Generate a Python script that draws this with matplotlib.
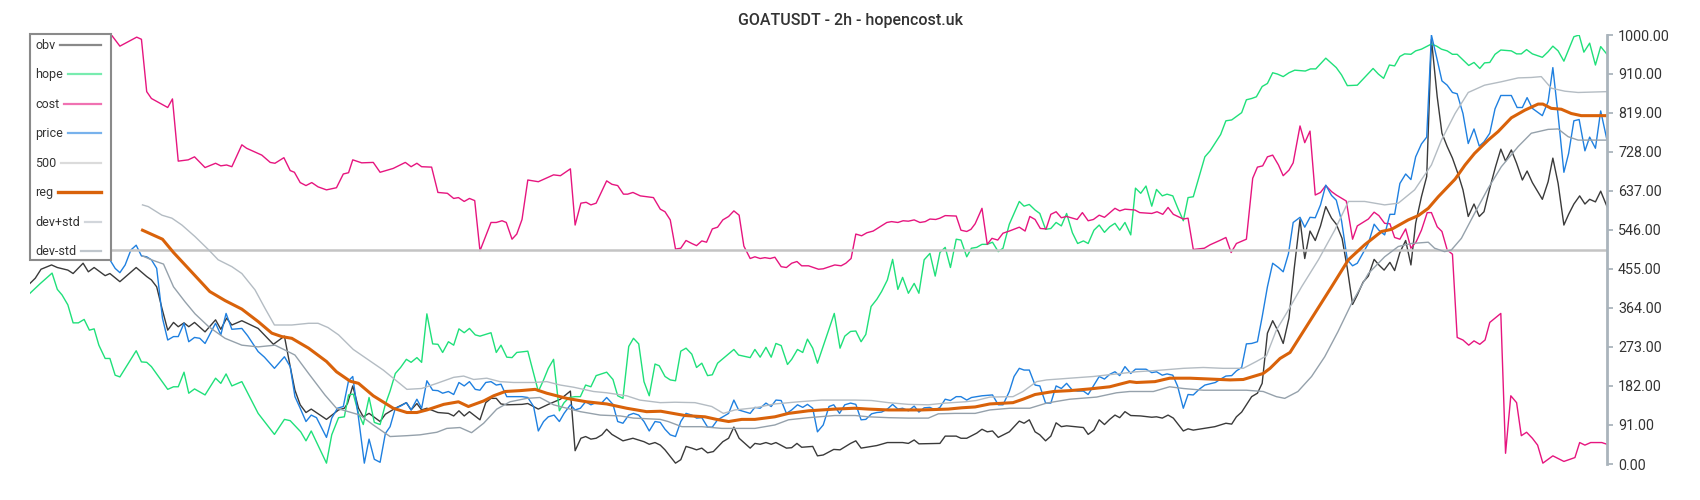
import matplotlib.pyplot as plt
from matplotlib.patches import Rectangle
from matplotlib.lines import Line2D

plt.rcParams['font.family'] = ['Roboto', 'DejaVu Sans']

title = 'GOATUSDT - 2h - hopencost.uk'
yticks = [0, 91, 182, 273, 364, 455, 546, 637, 728, 819, 910, 1000]
level_500 = 500

# x = bar number (2h candles), y = scaled value 0..1000
obv_t = [0, 1, 2.1, 4.1, 5.2, 7.2, 8.2, 10.1, 11.1, 12.2, 14.3, 15.2, 17.1, 20.2, 22.2, 23.1, 24.1, 25.1, 26.2, 27.3,
         28.2, 29.3, 30.2, 31.3, 33.3, 35.3, 36.3, 37.4, 38.4, 40.3, 43.4, 46.3, 48.4, 49.5, 50.4, 51.4, 52.5, 53.5,
         56.4, 58.7, 59.8, 60.4, 61.4, 62.5, 63.4, 64.5, 66.6, 67.6, 69.5, 71.6, 72.5, 73.6, 74.5, 75.5, 77.6, 79.6,
         80.6, 81.6, 82.6, 83.6, 85.6, 86.7, 87.7, 88.7, 89.6, 90.7, 93.6, 94.7, 96.7, 98.6, 100.9, 102.8, 103.7,
         104.8, 105.7, 106.7, 107.7, 108.8, 109.7, 110.7, 112.8, 114.7, 116.8, 117.8, 118.9, 119.9, 120.8, 122.8,
         123.8, 124.8, 125.9, 126.8, 127.8, 128.9, 130, 131.8, 132.9, 133.9, 134.9, 137, 137.9, 138.9, 140, 141,
         141.9, 143.9, 144.9, 145.9, 146.8, 148.9, 149.8, 150.9, 152.9, 154.1, 156.1, 157.1, 158.1, 161.1, 163.1,
         166, 167.1, 168.2, 169.1, 173.1, 174.1, 176.2, 177.1, 178.2, 180.1, 181.1, 182.1, 183.1, 184.2, 186.3,
         188.2, 189.1, 190.1, 191.2, 192.1, 193.2, 194.2, 195.2, 196.2, 197.2, 200.4, 201.3, 202.4, 203.4, 204.4,
         205.4, 206.4, 207.3, 208.3, 209.4, 211.3, 213.4, 214.3, 215.4, 216.5, 217.5, 219.4, 220.3, 221.3, 225.4,
         227.5, 228.6, 229.5, 230.5, 231.4, 232.4, 233.5, 234.4, 235.4, 236.4, 237.5, 238.4, 239.5, 240.5, 241.6,
         242.5, 243.5, 244.5, 245.5, 246.5, 247.6, 248.5, 249.6, 250.6, 251.6, 252.5, 253.6, 254.6, 255.7, 256.6,
         257.6, 258.7, 259.6, 260.6, 261.7, 262.7, 263.6, 264.7, 265.7, 266.6, 267.7, 268.6, 269.6, 270.6, 271.7,
         272.6, 273.6, 274.7, 275.7, 276.6, 277.7, 278.8, 279.8, 280.7, 281.8, 282.8, 283.9, 284.8, 285.8, 287.7,
         288.8, 289.7, 290.7, 291.8, 292.7, 293.7, 294.8, 295.8, 296.7, 297.8, 298.8, 300]
obv = [421, 433, 454, 464, 458, 452, 444, 468, 448, 458, 439, 444, 425, 458, 437, 429, 413, 363, 312, 330,
       320, 329, 320, 330, 308, 336, 314, 340, 324, 334, 316, 279, 298, 227, 172, 138, 120, 128,
       104, 126, 130, 141, 182, 130, 110, 118, 99, 116, 130, 143, 126, 141, 126, 130, 120, 118,
       112, 124, 112, 122, 103, 143, 153, 153, 140, 138, 139, 141, 128, 139, 151, 170, 31,
       60, 64, 58, 60, 68, 81, 69, 54, 60, 52, 46, 50, 44, 33, 2,
       10, 41, 37, 33, 37, 26, 29, 52, 60, 86, 60, 37, 48, 46, 50, 46,
       50, 37, 38, 48, 39, 41, 19, 21, 34, 33, 48, 54, 37, 43, 50,
       50, 48, 56, 47, 48, 65, 65, 60, 60, 72, 81, 75, 77, 62, 75,
       100, 95, 103, 75, 68, 54, 65, 96, 87, 89, 85, 69, 79, 103, 92,
       104, 114, 108, 122, 113, 112, 109, 110, 107, 114, 107, 77, 82, 79, 87,
       95, 93, 110, 121, 138, 157, 165, 188, 305, 334, 308, 281, 340, 456, 570,
       479, 543, 521, 555, 600, 573, 559, 526, 456, 372, 394, 424, 438, 477, 464,
       452, 470, 451, 493, 521, 464, 561, 623, 670, 990, 856, 771, 740, 713, 675,
       639, 577, 606, 577, 588, 643, 693, 734, 706, 732, 701, 662, 683, 656, 617,
       658, 713, 654, 557, 582, 606, 625, 606, 617, 611, 636, 600]

hope_t = [0, 1.9, 4.2, 5.2, 6.1, 7.2, 8.2, 9.2, 10.3, 11.3, 12.2, 13.1, 14.3, 15.2, 16.2, 17.1, 20.2, 21.2, 22.2,
          23.1, 26.2, 27.3, 28.2, 29.3, 30.2, 31.3, 33.3, 35.3, 36.3, 37.3, 38.4, 40.3, 43.4, 46.5, 48.4, 49.5,
          51.5, 52.5, 53.5, 56.4, 57.4, 58.7, 59.8, 60.6, 61.5, 62.5, 63.4, 64.5, 65.5, 66.6, 67.6, 68.5, 69.5,
          70.5, 71.6, 72.5, 73.6, 74.5, 75.5, 76.6, 77.6, 78.5, 79.6, 80.6, 81.6, 82.6, 83.6, 84.7, 85.6, 87.7,
          88.7, 89.6, 90.7, 91.7, 92.6, 94.7, 96.7, 97.7, 98.6, 99.6, 100.7, 101.6, 102.6, 103.7, 104.7, 105.7,
          106.7, 107.7, 109.7, 110.9, 111.8, 112.8, 113.9, 114.8, 115.8, 116.8, 117.8, 118.9, 119.7, 120.8,
          121.8, 122.8, 123.8, 124.8, 125.9, 126.8, 127.8, 128.9, 129.8, 130.8, 133.9, 134.8, 137, 137.9, 138.9,
          140, 141, 141.9, 142.9, 144.1, 144.9, 146, 147, 147.9, 148.9, 149.8, 153, 154.1, 155, 156.1, 157.1,
          158.1, 159, 160, 161.1, 162, 163.1, 164.1, 165.1, 166, 167.1, 168.2, 169.1, 170.1, 171.2, 172.2,
          173.1, 174.1, 175.1, 176.2, 177.1, 178.2, 179.1, 180.1, 181.1, 182.1, 183.1, 184.2, 185.1, 186.3,
          187.2, 188.2, 189.1, 190.1, 191.2, 192.1, 193.2, 194.2, 195.2, 196.2, 197.2, 198.3, 199.3, 200.4,
          201.3, 202.4, 203.4, 204.4, 205.4, 206.4, 207.3, 208.3, 209.4, 210.3, 211.3, 212.3, 213.4, 214.3,
          215.4, 216.3, 217.4, 218.3, 219.4, 220.3, 221.3, 223.5, 224.5, 226.5, 227.5, 228.6, 230.5, 231.4,
          232.4, 233.3, 234.4, 235.4, 236.4, 237.3, 238.4, 239.5, 240.6, 242.6, 243.6, 244.6, 246.5, 248.5,
          249.5, 250.6, 252.5, 255.5, 256.5, 257.5, 258.6, 259.6, 260.6, 261.5, 262.7, 263.6, 264.7, 266.6,
          267.6, 268.5, 269.6, 270.6, 271.5, 272.6, 273.7, 274.7, 275.8, 276.7, 277.7, 278.7, 279.8, 281.8,
          282.8, 283.7, 284.7, 285.8, 287.7, 288.8, 289.7, 290.7, 291.8, 292.7, 293.7, 294.7, 295.6, 296.7,
          297.8, 298.8, 300]
hope = [398, 420, 445, 407, 394, 371, 329, 329, 337, 312, 315, 277, 246, 246, 207, 203, 264, 238, 237,
        227, 174, 180, 180, 214, 165, 175, 161, 200, 188, 210, 182, 192, 118, 69, 104, 101,
        75, 54, 77, 2, 68, 108, 110, 161, 163, 118, 92, 155, 97, 92, 139, 170, 211,
        225, 244, 237, 248, 237, 350, 280, 279, 260, 285, 277, 315, 306, 316, 301, 298, 306,
        260, 277, 249, 248, 260, 263, 169, 196, 223, 244, 124, 143, 155, 157, 157, 184,
        180, 206, 214, 197, 159, 153, 274, 293, 280, 192, 159, 233, 229, 204,
        196, 194, 263, 270, 256, 225, 235, 206, 208, 235, 267, 254, 248, 267, 249,
        272, 249, 281, 276, 232, 244, 267, 260, 291, 270, 235, 351, 270, 298, 309, 310,
        285, 302, 367, 384, 402, 429, 477, 407, 435, 398, 421, 398, 476, 491, 438,
        493, 505, 458, 524, 522, 483, 503, 505, 512, 512, 517, 495, 503, 559,
        584, 612, 601, 605, 592, 584, 547, 549, 563, 555, 584, 539, 514, 520,
        514, 545, 557, 540, 553, 561, 545, 563, 534, 643, 631, 648, 601, 640,
        625, 629, 625, 598, 567, 621, 623, 716, 730, 768, 800, 802, 819, 849,
        852, 856, 880, 887, 912, 909, 903, 912, 918, 916, 921, 921, 946, 924,
        907, 882, 883, 922, 909, 899, 930, 928, 950, 956, 955, 963, 967, 979,
        974, 967, 963, 955, 955, 942, 929, 936, 922, 935, 936, 955, 965, 963,
        956, 956, 966, 956, 948, 961, 974, 963, 939, 966, 996, 1000, 960, 981,
        930, 973, 955]

cost_t = [0, 8, 15.5, 17.1, 20.3, 21.2, 22.2, 23.1, 26.2, 27.1, 28.2, 30.1, 31.3, 33.3, 35.3, 36.3, 37.4, 38.4,
          40.3, 41.2, 44.1, 45.7, 46.6, 48.3, 49.5, 50.3, 51.4, 52.5, 53.6, 54.8, 56.4, 58.3, 59.6, 60.6, 61.4,
          63.1, 65.3, 66.6, 69.1, 71.4, 72.5, 73.6, 74.5, 76.4, 77.6, 79.4, 80.6, 81.5, 82.6, 83.6, 84.6, 85.6,
          87.7, 88.7, 89.8, 90.6, 91.7, 92.6, 93.6, 94.7, 96.7, 99.6, 100.9, 102.8, 103.7, 104.8, 105.8, 106.7,
          107.7, 109.7, 110.7, 111.8, 112.9, 113.7, 114.7, 116.1, 118.6, 119.9, 120.8, 121.8, 122.8, 123.8,
          124.8, 125.9, 126.8, 127.8, 128.7, 129.8, 130.8, 131.8, 132.9, 133.9, 134.9, 135.8, 137, 137.9,
          138.9, 139.8, 140.8, 141.7, 142.9, 143.9, 144.9, 145.9, 146.8, 148.1, 150, 150.9, 153.1, 154.3,
          155.2, 156.2, 157.1, 158.2, 159.2, 160.4, 163, 163.9, 165.1, 166.1, 167.1, 168.2, 169.3, 170.3,
          171.2, 172.3, 173.1, 174.1, 176.2, 177.1, 178.2, 179, 179.8, 181.1, 182.1, 183, 184.1, 185.1, 186.3,
          188.2, 189.3, 190.2, 191.2, 192.2, 193.3, 194.2, 195.2, 196.2, 197.2, 199.2, 200.2, 201.3, 202.3,
          203.4, 204.4, 206.4, 207.3, 208.3, 210.2, 211.1, 213.4, 214.4, 215.5, 216.5, 217.5, 219.4, 220.3,
          221.3, 223.4, 224.5, 226.5, 227.5, 228.5, 229.5, 231.4, 232.6, 233.5, 234.5, 235.4, 236.4, 237.5,
          238.4, 239.5, 240.3, 241.6, 242.5, 243.5, 244.5, 245.5, 246.5, 247.6, 248.5, 250.4, 251.6, 252.5,
          254.6, 255.7, 256.6, 257.7, 258.7, 259.6, 260.6, 261.7, 262.7, 263.7, 264.7, 265.8, 266.6, 267.7,
          268.6, 269.6, 270.6, 271.5, 272.6, 273.7, 274.7, 275.8, 276.8, 277.7, 279.8, 280.7, 281.7, 282.8,
          283.7, 284.7, 285.8, 286.8, 287.8, 289.7, 291.8, 293.9, 294.8, 295.8, 296.9, 299, 300]
cost = [1000, 1000, 1000, 974, 995, 990, 868, 852, 831, 851, 706, 709, 716, 691, 701, 695, 697, 693,
        744, 736, 720, 703, 701, 714, 684, 680, 656, 649, 656, 646, 639, 644, 676, 679, 709,
        702, 703, 680, 689, 703, 693, 701, 693, 692, 633, 631, 619, 621, 612, 619, 614, 497,
        563, 563, 567, 563, 524, 536, 570, 662, 658, 674, 672, 688, 557, 608, 610, 604,
        608, 660, 652, 649, 629, 629, 633, 625, 621, 594, 588, 569, 501, 503,
        521, 514, 509, 520, 517, 548, 552, 569, 577, 590, 580, 508, 479, 483,
        479, 481, 479, 482, 460, 458, 468, 472, 462, 462, 454, 455, 464, 462,
        468, 479, 536, 532, 539, 543, 563, 565, 563, 567, 566, 569, 563, 565,
        571, 570, 573, 579, 578, 545, 542, 547, 560, 596, 512, 526, 522, 538, 543,
        552, 543, 577, 570, 549, 548, 582, 588, 574, 577, 570, 586, 567, 570,
        580, 575, 596, 590, 594, 592, 586, 584, 588, 582, 598, 582, 571, 573,
        500, 503, 511, 522, 528, 493, 514, 524, 666, 692, 695, 716, 720, 697,
        672, 685, 702, 788, 749, 776, 627, 633, 649, 635, 627, 613, 524, 555,
        571, 587, 579, 561, 560, 528, 524, 548, 503, 518, 545, 586, 586, 553,
        542, 499, 489, 295, 289, 277, 287, 279, 289, 330, 351, 25, 159, 143,
        66, 74, 60, 44, 2, 19, 6, 15, 50, 44, 50, 50, 46]

price_t = [0, 4, 8, 12, 15.2, 16.2, 17.1, 18.1, 19.2, 20.2, 21.2, 22.2, 23.1, 24.1, 25.2, 26.2, 27.3, 28.2, 29.3,
           30.2, 31.3, 32.3, 33.3, 35.3, 36.3, 37.3, 38.4, 40.3, 41.4, 43.4, 44.6, 46.5, 48.4, 49.5, 50.4, 51.4,
           52.5, 53.5, 54.5, 56.4, 57.4, 58.5, 59.6, 60.6, 61.4, 62.5, 63.6, 64.5, 65.5, 66.6, 67.6, 68.5, 69.5,
           70.5, 71.6, 72.5, 73.6, 74.5, 75.5, 76.6, 77.6, 78.5, 79.6, 80.6, 81.6, 82.6, 83.6, 84.7, 85.6, 86.7,
           87.7, 88.7, 89.6, 90.7, 93.6, 94.7, 95.8, 96.7, 97.7, 98.6, 99.7, 100.7, 101.6, 102.8, 103.7, 104.7,
           105.7, 106.7, 107.7, 108.8, 109.7, 110.9, 111.8, 112.8, 113.9, 114.8, 115.8, 116.8, 117.8, 118.9,
           119.9, 120.8, 121.8, 122.8, 123.8, 124.8, 125.9, 126.8, 127.8, 128.9, 129.8, 130.8, 131.8, 132.9,
           133.9, 134.8, 137, 137.9, 138.9, 140, 141, 141.9, 142.9, 143.9, 144.9, 146, 147, 147.9, 148.9, 149.8,
           150.9, 152, 152.9, 154, 155, 156.1, 157.1, 158.1, 159, 160.1, 161.1, 162, 163.1, 164.1, 165.1, 166,
           167.1, 168.2, 169.1, 170.1, 171.2, 172.2, 173.1, 174.1, 175.1, 176.2, 177.1, 178.2, 179.1, 180.1,
           181.1, 183.1, 184.2, 185.1, 186.3, 187.2, 188.2, 189.1, 190.1, 191.2, 192.1, 193.2, 194.2, 195.2,
           196.2, 197.2, 198.3, 199.3, 200.4, 201.3, 202.4, 203.4, 204.4, 205.4, 206.4, 207.3, 208.3, 209.4,
           210.3, 211.3, 212.3, 213.4, 214.3, 215.4, 216.3, 217.4, 218.3, 219.4, 220.3, 221.3, 222.4, 223.5,
           224.5, 225.5, 226.5, 227.5, 228.6, 229.5, 230.5, 231.4, 232.4, 233.5, 234.4, 235.4, 236.4, 237.5,
           238.4, 239.4, 240.3, 241.6, 242.5, 243.5, 244.5, 245.5, 246.5, 247.6, 248.5, 249.5, 250.6, 251.6,
           252.5, 254.6, 255.7, 256.6, 257.7, 258.7, 259.6, 260.6, 261.7, 262.7, 263.6, 264.7, 265.7, 266.6,
           267.7, 268.6, 269.6, 270.6, 271.5, 272.6, 273.6, 274.7, 275.7, 276.6, 277.7, 278.7, 279.8, 281.8,
           282.9, 283.9, 284.8, 285.8, 287.7, 288.8, 289.7, 290.7, 291.8, 292.7, 293.7, 294.7, 295.8, 296.7,
           297.8, 298.8, 300]
price = [480, 500, 490, 495, 476, 456, 446, 464, 499, 510, 485, 483, 476, 456, 340, 289, 297, 297, 328,
         285, 295, 293, 281, 328, 301, 351, 314, 316, 299, 262, 249, 223, 250, 227, 157, 130,
         99, 114, 108, 62, 107, 130, 134, 194, 204, 107, 2, 58, 11, 4, 71, 87, 130,
         135, 143, 126, 151, 130, 194, 172, 171, 165, 169, 162, 190, 182, 192, 174, 172, 190,
         192, 184, 186, 157, 157, 155, 134, 77, 99, 110, 114, 99, 118, 138, 126, 130,
         145, 138, 143, 143, 155, 139, 99, 95, 114, 118, 114, 99, 77, 99,
         97, 81, 68, 64, 99, 118, 114, 107, 108, 86, 86, 103, 110, 118,
         149, 126, 118, 132, 130, 142, 134, 149, 148, 118, 126, 138, 132, 139, 130, 75,
         91, 134, 138, 118, 138, 142, 139, 103, 104, 117, 120, 121, 128, 139, 128, 130,
         124, 135, 121, 131, 132, 126, 132, 151, 148, 157, 157, 149, 155, 157,
         159, 161, 138, 138, 169, 204, 223, 219, 219, 184, 182, 142, 142, 182,
         176, 188, 172, 170, 170, 162, 184, 204, 198, 209, 215, 206, 227, 211,
         221, 221, 221, 213, 215, 207, 210, 207, 182, 130, 162, 161, 174, 184,
         187, 190, 198, 205, 206, 217, 225, 280, 281, 285, 343, 413, 468, 458,
         448, 490, 563, 575, 552, 575, 574, 604, 650, 626, 615, 567, 476, 462,
         468, 514, 559, 545, 534, 582, 582, 654, 676, 663, 716, 746, 762, 1000,
         942, 893, 883, 866, 863, 817, 747, 781, 741, 751, 771, 828, 859, 859,
         831, 831, 854, 829, 812, 845, 924, 813, 680, 724, 800, 803, 730, 762,
         736, 823, 755]

reg_t = [21.4, 25.2, 27.3, 31.4, 34.2, 37.1, 40.3, 43.4, 46, 47.9, 49.8, 53, 56.4, 58.3, 60.9, 62.5, 65.3, 69.1,
         71.7, 73.6, 75.5, 78.7, 81.5, 83.4, 86.3, 88.2, 90.4, 93.2, 96.1, 98.3, 102.1, 105.9, 109.7, 113.5, 117.3,
         120, 124.6, 128.4, 130.6, 132.9, 135.4, 137.9, 141.7, 144.3, 148.1, 153.1, 156.9, 159.5, 163.3, 169.6,
         174.7, 177.2, 179.8, 182.6, 187, 188.9, 191.2, 194.7, 197.8, 201.6, 205.4, 209.2, 210.5, 214, 216.8,
         220.7, 224.5, 228.3, 230.8, 234.6, 235.9, 237.8, 239.7, 241.2, 244.4, 247.6, 250.8, 253.9, 257.1, 259,
         262.2, 264.1, 266, 267.9, 271.1, 273, 274.8, 277.4, 279.3, 281.8, 284.4, 286.9, 287.8, 289.4, 291.3,
         293.2, 295.1, 297.7, 300]
reg = [545, 524, 493, 439, 402, 381, 361, 332, 305, 297, 293, 270, 239, 215, 193, 188, 159, 130,
       120, 120, 126, 139, 145, 134, 147, 159, 169, 171, 174, 165, 153, 145, 140, 130, 122,
       123, 113, 110, 104, 99, 104, 104, 110, 118, 124, 128, 130, 128, 126, 126,
       128, 131, 133, 140, 143, 151, 162, 169, 171, 175, 180, 192, 190, 192, 200,
       200, 198, 196, 197, 211, 223, 246, 260, 289, 351, 413, 476, 511, 542, 547,
       569, 579, 596, 623, 664, 697, 724, 755, 775, 807, 825, 839, 839, 829, 827,
       817, 812, 812, 812]

dev_hi_t = [21.4, 22.5, 25.1, 27, 28.9, 31.4, 34, 35.8, 38.4, 40.3, 42.8, 44.7, 46.5, 49.8, 53, 54.8, 56.7, 58.7,
            61.5, 64.7, 67.2, 69.5, 71.7, 74.5, 77.4, 80.6, 82.5, 84.4, 86.9, 89.4, 92, 95.8, 98.3, 100.9, 103.4,
            107.2, 109.7, 113.5, 116, 119.9, 122.7, 126.5, 129.7, 131.9, 134.1, 137.9, 141.7, 146.2, 150.6, 157,
            160.1, 163.3, 167.1, 170.9, 174.1, 177.9, 180, 182.6, 187, 188.9, 191.5, 193.4, 197.8, 202.3, 206.7,
            210.5, 214.3, 219.4, 223.2, 227, 230.8, 233.3, 235.2, 237.1, 239.2, 241.9, 245.1, 248.2, 250.8,
            253.9, 257.7, 260.3, 263.4, 266.6, 268.5, 271.1, 273.6, 276.7, 279.9, 283.1, 285.6, 287.5, 289.4,
            292, 294.5, 300]
dev_hi = [604, 600, 580, 573, 557, 530, 499, 476, 460, 444, 406, 363, 324, 324, 328, 328, 318, 301,
          267, 240, 219, 196, 174, 176, 188, 202, 205, 197, 200, 192, 190, 190, 192, 184, 179,
          169, 166, 159, 149, 143, 144, 143, 134, 118, 126, 131, 140, 145, 149, 149,
          148, 143, 139, 138, 142, 145, 148, 156, 157, 169, 192, 196, 200, 204, 210,
          215, 218, 223, 225, 223, 223, 239, 252, 312, 355, 413, 476, 545, 612,
          612, 604, 608, 639, 697, 755, 817, 866, 883, 891, 900, 901, 903, 876,
          869, 866, 868]

dev_lo_t = [21.4, 23.1, 25.4, 27.3, 29.5, 31.4, 34, 37.1, 40.3, 43.4, 46.6, 49.1, 50.4, 53, 56.1, 58.3, 60, 62.8,
            65.3, 68.5, 71.7, 74.2, 77.4, 79.3, 81.8, 84, 86.3, 88.8, 91.3, 94.5, 97, 99.6, 102.1, 104.7, 108.5,
            112.3, 114.8, 119.9, 121.4, 124, 127.8, 131.6, 137.9, 141.7, 144.3, 148.1, 153.1, 157, 159.5, 163.3,
            167.1, 170.9, 172.8, 176, 179.8, 182.6, 186.4, 190.2, 193.4, 197.8, 202.9, 206.7, 209.2, 213.7, 216.8,
            219.4, 223.2, 228.3, 231.4, 234.6, 237.1, 238.7, 241.2, 243.8, 246.3, 248.8, 251.4, 254.6, 257.7,
            260.3, 262.8, 266, 267.2, 269.1, 270.4, 272.3, 274.8, 277.4, 279.9, 283.1, 285.6, 288.8, 290.7,
            292.6, 294.5, 300]
dev_lo = [485, 476, 466, 413, 378, 350, 320, 293, 277, 273, 277, 262, 254, 211, 161, 130, 124, 114,
          91, 64, 66, 68, 74, 83, 85, 73, 95, 128, 145, 153, 155, 138, 130, 122, 114,
          112, 107, 104, 99, 87, 87, 83, 83, 91, 103, 108, 113, 113, 110, 108,
          107, 107, 117, 118, 118, 126, 130, 130, 142, 151, 156, 166, 169, 169, 180,
          176, 172, 172, 172, 169, 157, 153, 169, 204, 250, 308, 374, 444, 483,
          507, 514, 517, 503, 495, 499, 526, 584, 643, 693, 740, 771, 780, 781,
          763, 755, 755]

W, H = 1700, 500
fig = plt.figure(figsize=(W / 100, H / 100), dpi=100)
ax = fig.add_axes([30 / W, 36 / H, 1577 / W, 429 / H])

lines = []
lines.append(ax.plot(obv_t, obv, color='#3a3a3a', lw=1.0, label='obv')[0])
lines.append(ax.plot(hope_t, hope, color='#1fe07a', lw=1.0, label='hope')[0])
lines.append(ax.plot(cost_t, cost, color='#e6157f', lw=1.0, label='cost')[0])
lines.append(ax.plot(price_t, price, color='#1f80e0', lw=1.0, label='price')[0])
lines.append(ax.axhline(level_500, color='#c4c4c4', lw=1.8, label='500'))
lines.append(ax.plot(reg_t, reg, color='#d9620a', lw=2.2, label='reg')[0])
lines.append(ax.plot(dev_hi_t, dev_hi, color='#b4bcc3', lw=1.0, label='dev+std')[0])
lines.append(ax.plot(dev_lo_t, dev_lo, color='#95a1ab', lw=1.0, label='dev-std')[0])

ax.set_xlim(0, 300)
ax.set_ylim(0, 1000)
ax.set_xticks([])
ax.yaxis.tick_right()
ax.set_yticks(yticks)
ax.set_yticklabels(['%.2f' % v for v in yticks])
ax.tick_params(axis='y', colors='#aab4bc', labelcolor='#333333', labelsize=10.3, length=4, width=1.3, pad=4)
for side in ['left', 'top', 'bottom']:
    ax.spines[side].set_visible(False)
ax.spines['right'].set_color('#aab4bc')
ax.spines['right'].set_linewidth(2)

fig.text(0.5, 1 - 20 / H, title, ha='center', va='center', fontsize=11.5, color='#333333', fontweight='medium')

# legend box drawn by hand: labels left aligned, keys run to a common right edge
fig.add_artist(Rectangle((30 / W, 1 - 260 / H), 81 / W, 226 / H, transform=fig.transFigure,
                         facecolor='white', edgecolor='#8a8a8a', lw=1.5, zorder=10))
labels = []
for i, ln in enumerate(lines):
    y = 45 + i * 29.43
    labels.append(fig.text(35 / W, 1 - (y + 4) / H, ln.get_label(), ha='left', va='baseline',
                           fontsize=9.0, color='#333333', zorder=11))
fig.canvas.draw()
renderer = fig.canvas.get_renderer()
for i, (ln, lab) in enumerate(zip(lines, labels)):
    y = 1 - (45 + i * 29.43) / H
    x0 = lab.get_window_extent(renderer).x1 + 5
    key = Line2D([x0 / W, 100.7 / W], [y, y], transform=fig.transFigure, color=ln.get_color(),
                 lw=2.4 if ln.get_label() == 'reg' else 1.6,
                 alpha=1.0 if ln.get_label() == 'reg' else 0.6, zorder=11)
    fig.add_artist(key)

fig.savefig('out.png', dpi=100)
